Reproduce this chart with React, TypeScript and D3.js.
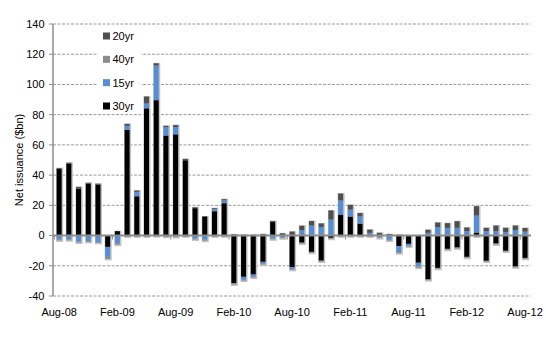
import React from "react";
import * as d3 from "d3";

const months = [
  "Aug-08","Sep-08","Oct-08","Nov-08","Dec-08","Jan-09","Feb-09","Mar-09","Apr-09","May-09","Jun-09","Jul-09",
  "Aug-09","Sep-09","Oct-09","Nov-09","Dec-09","Jan-10","Feb-10","Mar-10","Apr-10","May-10","Jun-10","Jul-10",
  "Aug-10","Sep-10","Oct-10","Nov-10","Dec-10","Jan-11","Feb-11","Mar-11","Apr-11","May-11","Jun-11","Jul-11",
  "Aug-11","Sep-11","Oct-11","Nov-11","Dec-11","Jan-12","Feb-12","Mar-12","Apr-12","May-12","Jun-12","Jul-12",
  "Aug-12",
];

const y30 = [
  44, 47.5, 31, 34.3, 33.7, -7.5, 2.9, 70, 26, 84.2, 89.6, 66.2,
  67, 49.8, 18.1, 12.6, 16.1, 21.4, -31.5, -27.3, -25.8, -17.4, 8.9, 0,
  -20.9, -4.7, -10.8, -16.6, -1.5, 13.9, 12.6, 7.9, 0, 0, 0, -7,
  -5.5, -18, -29, -21.4, -8.8, -7.9, -14.1, 2, -16.7, -5.3, -10.1, -20.5,
  -14.8,
];
const y15 = [
  -2.5, -2.5, -4, -3.6, -4.2, -6.6, -5, 2.6, 2.9, 3.2, 22.9, 5.5,
  4.8, 0, -2, -2.8, 1.3, 1.8, 0, -2, -1.5, -1.3, -2, -1.3,
  -1.3, 3.5, 6.6, 5.7, 10.6, 9.3, 4.6, 4.8, 1.8, -1.2, -2.8, -4,
  -1.3, -2.6, 1.8, 5.6, 5.1, 5.1, 2.9, 11.2, 2.9, 2.9, 2.2, 3.7,
  2.6,
];
const y40 = [
  -0.7, -0.6, -0.6, -0.6, -0.6, -1.4, -1, -0.6, -0.6, -0.6, -0.4, -0.8,
  -1, -0.6, -0.6, -0.6, -0.6, -0.5, -0.9, -0.5, -0.5, -0.5, -0.5, -0.5,
  -0.5, -0.6, -0.6, -0.6, -0.6, -0.5, -0.5, -0.5, -0.6, -0.5, -0.5, -0.7,
  -0.5, -0.7, -0.5, -0.6, -0.6, -0.6, -0.6, -0.6, -0.5, -0.6, -0.5, -0.6,
  -0.6,
];
const y20 = [
  0.6, 0.7, 1.2, 0.6, 0.6, 0, 0, 1.3, 0.9, 4.6, 1.5, 0.9,
  1.3, 0.9, 0.6, 0, 0.7, 0.9, 0.8, 0.5, 0.5, 1, 0.7, 1.5,
  2.6, 3, 3, 2.3, 6, 4.6, 3.1, 2.2, 2.1, 1.8, 1, 0.5,
  0, 0, 2, 3, 3.1, 4.4, 2.4, 6.2, 2.2, 3.7, 2.9, 2.9,
  2.4,
];

const seriesKeys = ["30yr", "15yr", "40yr", "20yr"];
const seriesColors = ["#000000", "#558ed5", "#8c8c8c", "#4f4f4f"];
const legendOrder = ["20yr", "40yr", "15yr", "30yr"];
const yTicks = [-40, -20, 0, 20, 40, 60, 80, 100, 120, 140];
const xTickLabels = ["Aug-08", "Feb-09", "Aug-09", "Feb-10", "Aug-10", "Feb-11", "Aug-11", "Feb-12", "Aug-12"];

export default function App() {
  const W = 546, H = 338;
  const left = 54.3, right = 529.9, top = 24, bottom = 296;
  const font = "'Liberation Sans', Arial, sans-serif";

  const rows = months.map((m, i) => ({ month: m, "30yr": y30[i], "15yr": y15[i], "40yr": y40[i], "20yr": y20[i] }));
  const stack = d3.stack<any>().keys(seriesKeys).offset(d3.stackOffsetDiverging);
  const layers = stack(rows);

  const x = d3.scaleBand<string>().domain(months).range([left, right]).paddingInner(0.48).paddingOuter(0.24);
  const y = d3.scaleLinear().domain([-40, 140]).range([bottom, top]);
  const bw = x.bandwidth();
  const colorOf = d3.scaleOrdinal<string, string>().domain(seriesKeys).range(seriesColors);

  const extents = rows.map((r, i) => {
    let pos = 0, neg = 0;
    seriesKeys.forEach((k) => { const v = (r as any)[k]; if (v > 0) pos += v; else neg += v; });
    return { month: r.month, pos, neg };
  });

  const legendY = d3.scalePoint<string>().domain(legendOrder).range([36, 106]);

  return (
    <svg width={W} height={H} style={{ position: "absolute", left: 0, top: 0, background: "#fff" }} fontFamily={font}>
      {/* gridlines */}
      {yTicks.filter((t) => t !== 0).map((t) => (
        <line key={t} x1={53} x2={530.5} y1={y(t)} y2={y(t)} stroke="#9a9a9a" strokeWidth={1} strokeDasharray="3,1.5" />
      ))}
      {/* y tick marks and labels */}
      {yTicks.map((t) => (
        <g key={"yt" + t}>
          <line x1={49} x2={53} y1={y(t)} y2={y(t)} stroke="#8c8c8c" strokeWidth={1} />
          <text x={44.5} y={y(t)} dy="0.35em" textAnchor="end" fontSize={11} fill="#000">{t}</text>
        </g>
      ))}
      {/* shadows */}
      {extents.map((e) => (
        <rect key={"s" + e.month} x={x(e.month)! - 0.5} width={bw + 2} y={y(e.pos) - 0.5} height={y(e.neg) - y(e.pos) + 2} fill="#c4c4c4" />
      ))}
      {/* bars */}
      {layers.map((layer) => (
        <g key={layer.key} fill={colorOf(layer.key)}>
          {layer.map((d, i) => {
            const y0 = Math.max(d[0], d[1]);
            const y1 = Math.min(d[0], d[1]);
            const h = y(y1) - y(y0);
            if (h <= 0) return null;
            return <rect key={i} x={x(months[i])} width={bw} y={y(y0)} height={h} />;
          })}
        </g>
      ))}
      {/* zero line */}
      <line x1={53} x2={531} y1={y(0)} y2={y(0)} stroke="#8c8c8c" strokeWidth={2} />
      {/* x tick marks */}
      {xTickLabels.map((m) => (
        <line key={"xt" + m} x1={x(m)! - (x.step() - bw) / 2} x2={x(m)! - (x.step() - bw) / 2} y1={y(0)} y2={y(0) + 4} stroke="#8c8c8c" strokeWidth={1} />
      ))}
      {/* y axis line */}
      <line x1={53} x2={53} y1={top} y2={bottom} stroke="#8c8c8c" strokeWidth={1.5} />
      {/* x labels */}
      {xTickLabels.map((m) => (
        <text key={"xl" + m} x={x(m)! + bw / 2} y={316} textAnchor="middle" fontSize={11} fill="#000">{m}</text>
      ))}
      {/* y title */}
      <text transform={`translate(19,${(top + bottom) / 2}) rotate(-90)`} textAnchor="middle" dy="0.35em" fontSize={11} fill="#000">Net issuance ($bn)</text>
      {/* legend */}
      <rect x={97} y={26} width={44} height={88} fill="#fff" />
      {legendOrder.map((k) => (
        <g key={"lg" + k}>
          <rect x={103} y={legendY(k)! - 3.5} width={7} height={7} fill={colorOf(k)} />
          <text x={112.5} y={legendY(k)!} dy="0.35em" fontSize={11} fill="#000">{k}</text>
        </g>
      ))}
    </svg>
  );
}
